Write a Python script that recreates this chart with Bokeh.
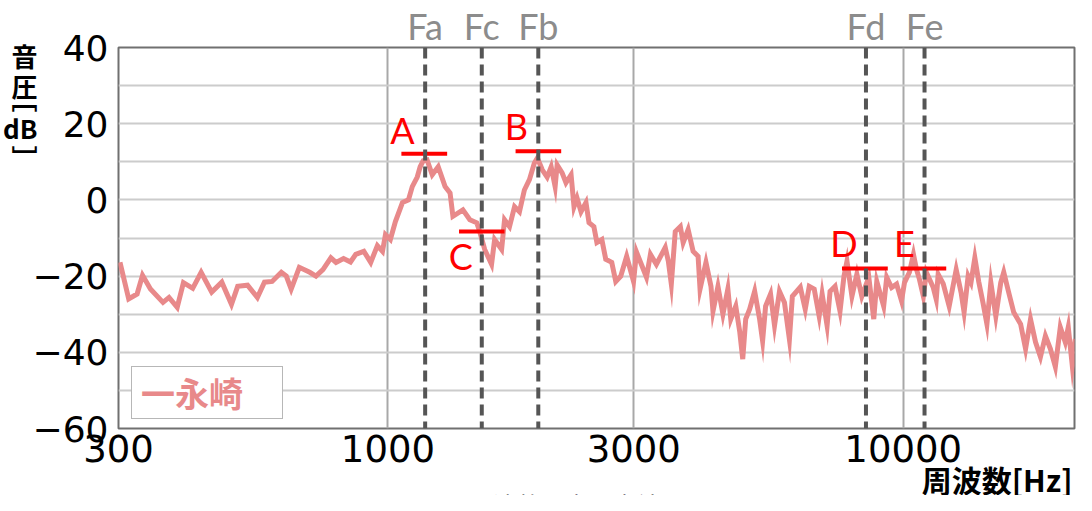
from bokeh.plotting import figure
from bokeh.models import (Range1d, FixedTicker, CustomJSTickFormatter, Span, Title,
                          LogAxis, LinearAxis, Legend, LegendItem, ColumnDataSource)
from bokeh.core.properties import value
from bokeh.embed import file_html
from bokeh.resources import INLINE

# ---- data -------------------------------------------------------------------
freq_hz = [302, 314, 326, 334, 346, 366, 376, 390, 401, 418, 434, 455, 476, 497, 511,
           534, 558, 576, 596, 621, 635, 649, 673, 705, 725, 748, 775, 793, 820, 846,
           866, 898, 926, 954, 976, 989, 1011, 1034, 1067, 1096, 1115, 1140, 1155, 1171,
           1191, 1219, 1252, 1291, 1320, 1337, 1398, 1442, 1487, 1507, 1541, 1589, 1611,
           1662, 1684, 1722, 1761, 1800, 1840, 1882, 1924, 1950, 1993, 2037, 2074, 2111,
           2130, 2178, 2216, 2267, 2297, 2328, 2370, 2423, 2456, 2510, 2544, 2601, 2647,
           2719, 2768, 2830, 2906, 2997, 3037, 3175, 3232, 3319, 3453, 3501, 3548, 3611,
           3694, 3741, 3825, 3911, 3999, 4034, 4142, 4236, 4274, 4370, 4468, 4568, 4628,
           4732, 4818, 4882, 4947, 5035, 5149, 5264, 5335, 5407, 5528, 5627, 5753, 5882,
           6014, 6094, 6314, 6455, 6572, 6719, 6869, 6961, 7117, 7212, 7374, 7540, 7675,
           7778, 7952, 8130, 8312, 8575, 8767, 8886, 9164, 9290, 9495, 9708, 9925, 10058,
           10283, 10469, 10609, 10750, 10943, 11090, 11438, 11591, 11691, 11957, 12280,
           12672, 12951, 13127, 13365, 13538, 13773, 14012, 14281, 14537, 14794, 15127,
           15465, 15672, 16024, 16386, 16899, 17278, 17665, 18062, 18466, 18880, 19303,
           19736, 20178, 20631, 20910, 21289, 21580, 21880]
level_db = [-16.4, -26.0, -24.7, -19.8, -23.4, -26.9, -25.6, -28.2, -21.7, -23.2, -19.0,
            -24.2, -21.6, -27.4, -22.7, -22.4, -25.6, -21.6, -21.4, -19.0, -20.0, -23.4,
            -17.7, -19.0, -20.0, -18.3, -15.2, -16.4, -15.4, -16.3, -14.3, -13.5, -16.4,
            -12.0, -13.5, -9.1, -10.4, -5.7, -0.7, 0.0, 3.5, 6.0, 8.7, 10.3, 10.5, 6.6,
            8.7, 3.5, 1.8, -4.3, -2.6, -5.2, -6.0, -8.3, -13.0, -16.9, -10.4, -13.0, -5.2,
            -7.0, -1.8, -3.1, 2.6, 5.3, 9.7, 11.0, 7.9, 6.0, 8.7, 3.5, 9.2, 7.1, 4.5, 6.6,
            -1.8, 0.5, -3.1, -0.7, -6.0, -7.0, -11.2, -10.4, -15.6, -16.4, -21.4, -20.0,
            -14.8, -21.4, -13.7, -20.3, -14.3, -16.9, -12.5, -16.1, -22.1, -8.3, -7.0,
            -11.2, -7.8, -13.5, -14.8, -23.4, -16.4, -22.7, -29.2, -22.7, -30.0, -23.4,
            -31.3, -27.9, -34.7, -41.8, -31.3, -28.7, -24.0, -31.3, -37.0, -27.9, -24.7,
            -33.0, -24.0, -26.9, -36.6, -25.3, -22.9, -28.7, -22.7, -23.4, -30.5, -24.7,
            -33.0, -24.0, -22.7, -29.2, -20.0, -16.1, -25.3, -19.5, -25.3, -20.3, -31.3,
            -21.4, -27.9, -20.3, -23.0, -22.1, -26.5, -21.7, -19.0, -14.3, -18.2, -20.8,
            -25.3, -19.0, -23.0, -26.1, -19.5, -22.0, -27.9, -18.3, -24.3, -29.5, -20.0,
            -21.7, -15.2, -21.4, -26.9, -32.6, -21.7, -30.5, -21.7, -19.0, -24.3, -29.5,
            -32.6, -39.1, -31.3, -37.3, -41.2, -35.7, -39.1, -43.8, -33.4, -37.3, -33.4,
            -43.5, -36.5, -47.7]

series_name = "一永崎"

# dashed reference frequencies
ref_names = ["Fa", "Fc", "Fb", "Fd", "Fe"]
ref_freqs = [1181, 1521, 1958, 8467, 11000]

# red level markers
mark_names = ["A", "B", "C", "D", "E"]
mark_db = [12.1, 12.8, -8.3, -18.0, -18.0]
mark_f_lo = [1062, 1769, 1374, 7607, 9880]
mark_f_hi = [1303, 2169, 1684, 9334, 12120]
mark_text_f = [1067, 1776, 1384, 7675, 10058]
mark_text_db = [18.3, 19.4, -14.8, -11.2, -11.2]

x_ticks = [300, 1000, 3000, 10000]
y_ticks = [-60, -40, -20, 0, 20, 40]
y_grid = [-60, -50, -40, -30, -20, -10, 0, 10, 20, 30, 40]
x_grid = [1000, 3000, 10000]

# y axis title, written vertically: pieces and their heights on the dB scale
y_title_parts = ["音", "圧", "﹇", "dB", "﹈"]
y_title_pos = [38.0, 30.0, 27.0, 19.0, 11.0]

x_title = "周波数[Hz]"
caption = "図２　周波数－音圧実績"

# ---- figure ------------------------------------------------------------------
p = figure(width=1076, height=495, x_axis_type="log",
           x_range=Range1d(300, 21500), y_range=Range1d(-60, 40),
           output_backend="svg", toolbar_location=None,
           min_border_left=114, min_border_right=2, min_border_top=39,
           min_border_bottom=10)
p.background_fill_color = "white"
p.border_fill_color = "white"
p.outline_line_color = "#707070"
p.outline_line_width = 2


def bare(ax):
    ax.axis_line_color = None
    ax.major_tick_line_color = None
    ax.minor_tick_line_color = None
    ax.major_tick_out = 0
    ax.major_tick_in = 0
    ax.minor_tick_out = 0
    ax.minor_tick_in = 0


for ax in (p.xaxis[0], p.yaxis[0]):
    bare(ax)
    ax.major_label_text_font = "DejaVu Sans"
    ax.major_label_text_color = "black"

p.xaxis.major_label_text_font_size = "37px"
p.yaxis.major_label_text_font_size = "36px"
p.xaxis.ticker = FixedTicker(ticks=x_ticks)
p.xaxis.formatter = CustomJSTickFormatter(code="return tick.toFixed(0);")
p.xaxis.major_label_standoff = 6

p.yaxis.ticker = FixedTicker(ticks=y_ticks)
p.yaxis.formatter = CustomJSTickFormatter(
    code="return tick < 0 ? '\u2212' + (-tick).toFixed(0) : tick.toFixed(0);")
p.yaxis.major_label_standoff = 10

# vertical y title as a second left axis
ytitle_ax = LinearAxis(ticker=FixedTicker(ticks=y_title_pos),
                       major_label_overrides=dict(zip(y_title_pos, y_title_parts)),
                       major_label_standoff=-8,
                       major_label_text_font="Noto Sans CJK JP",
                       major_label_text_font_style="bold",
                       major_label_text_font_size="26px",
                       major_label_text_color="black")
bare(ytitle_ax)
p.add_layout(ytitle_ax, "left")

# names of the dashed frequencies, as an axis on top
top_ax = LogAxis(ticker=FixedTicker(ticks=ref_freqs),
                 major_label_overrides=dict(zip(ref_freqs, ref_names)),
                 major_label_standoff=0,
                 major_label_text_font="Lato",
                 major_label_text_font_size="36px",
                 major_label_text_color="#8c8c8c")
bare(top_ax)
p.add_layout(top_ax, "above")

p.ygrid.ticker = FixedTicker(ticks=y_grid)
p.ygrid.grid_line_color = "#cccccc"
p.ygrid.grid_line_width = 2
p.xgrid.ticker = FixedTicker(ticks=x_grid)
p.xgrid.grid_line_color = "#a8a8a8"
p.xgrid.grid_line_width = 2

src = ColumnDataSource(data=dict(f=freq_hz, db=level_db))
line_r = p.line("f", "db", source=src, line_color="#E8898A", line_width=5,
                line_join="miter")

# red markers
msrc = ColumnDataSource(data=dict(x0=mark_f_lo, x1=mark_f_hi, y=mark_db))
p.segment(x0="x0", y0="y", x1="x1", y1="y", source=msrc,
          line_color="#FF0000", line_width=4)
tsrc = ColumnDataSource(data=dict(x=mark_text_f, y=mark_text_db, t=mark_names))
p.text(x="x", y="y", text="t", source=tsrc, text_color="#FF0000",
       text_font=value("Lato"), text_font_size="36px",
       text_align="center", text_baseline="middle")

# dashed verticals
for f in ref_freqs:
    p.add_layout(Span(location=f, dimension="height", line_color="#555555",
                      line_width=4, line_dash="11 6"))

# x axis title, right aligned under the axis
p.add_layout(Title(text=x_title, align="right", offset=2, vertical_align="top",
                   standoff=-15, text_font="Noto Sans CJK JP", text_font_style="bold",
                   text_font_size="30px", text_color="black"), "below")

# caption under the chart (cut by the lower edge, as in the reference)
p.add_layout(Title(text=caption, align="left", offset=278, vertical_align="bottom",
                   standoff=-52, text_font="Noto Sans CJK JP", text_font_style="normal",
                   text_font_size="24px", text_color="black"), "below")

legend = Legend(items=[LegendItem(label=series_name, renderers=[line_r])],
                location=(13, 9), glyph_width=0, label_standoff=8, padding=1,
                label_width=140, margin=0,
                label_text_font="Noto Sans CJK JP", label_text_font_style="bold",
                label_text_font_size="34px", label_text_color="#E8898A",
                border_line_color="#707070", border_line_width=1.5,
                background_fill_color="white", background_fill_alpha=1.0)
p.add_layout(legend)

open("out.html", "w").write(file_html(p, INLINE))
